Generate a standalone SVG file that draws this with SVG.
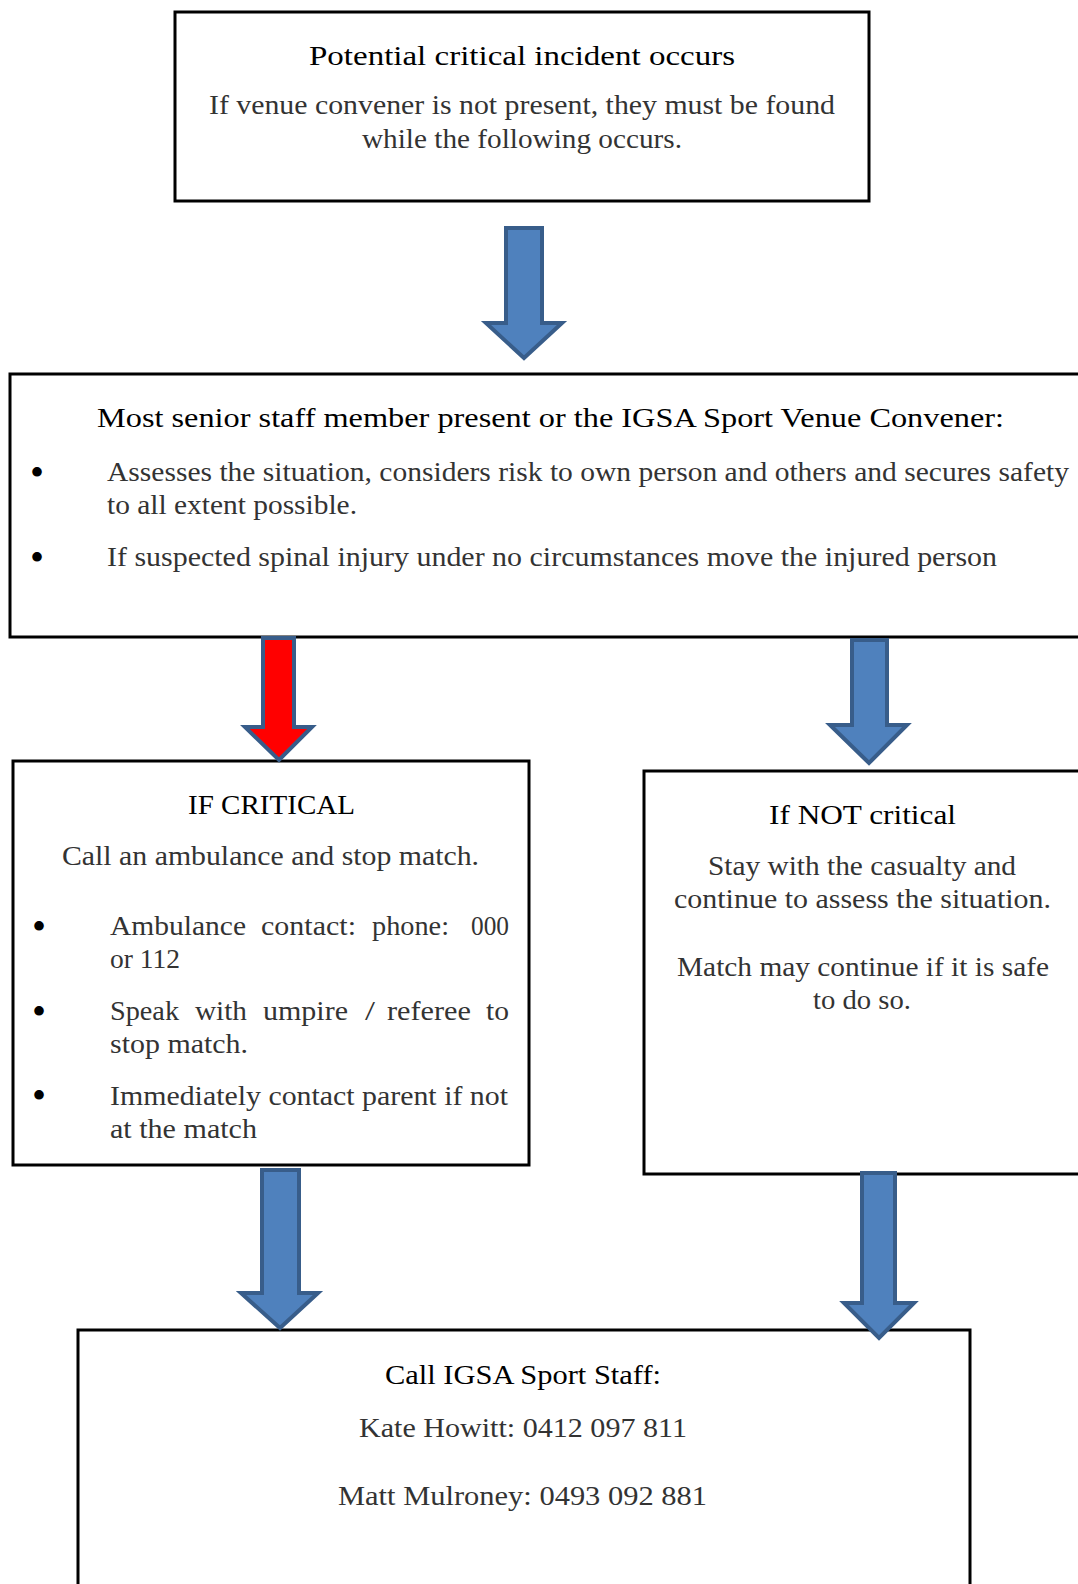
<svg xmlns="http://www.w3.org/2000/svg" width="1078" height="1584" viewBox="0 0 1078 1584">
<style>
.box{fill:#fff;stroke:#000;stroke-width:3}
.h{font-family:"Liberation Serif","Times New Roman",serif;font-size:28px;fill:#000}
.b{font-family:"Liberation Serif","Times New Roman",serif;font-size:27px;fill:#333}
.bl{font-family:"Liberation Serif","Times New Roman",serif;font-size:40px;fill:#000}
.arr{fill:#4F81BD;stroke:#385D8A;stroke-width:4;stroke-linejoin:miter}
.red{fill:#FF0000;stroke:#385D8A;stroke-width:4;stroke-linejoin:miter}
</style>
<rect width="1078" height="1584" fill="#fff"/>

<g id="node-start">
<rect class="box" x="175" y="12" width="694" height="189"/>
<text class="h" x="309" y="65" textLength="426" lengthAdjust="spacingAndGlyphs">Potential critical incident occurs</text>
<text class="b" x="209" y="114" textLength="626" lengthAdjust="spacingAndGlyphs">If venue convener is not present, they must be found</text>
<text class="b" x="362" y="148" textLength="320" lengthAdjust="spacingAndGlyphs">while the following occurs.</text>
</g>

<g id="node-senior">
<rect class="box" x="10" y="374" width="1090" height="263"/>
<text class="h" x="97" y="427" textLength="907" lengthAdjust="spacingAndGlyphs">Most senior staff member present or the IGSA Sport Venue Convener:</text>
<text class="bl" x="30" y="486">•</text>
<text class="b" x="107" y="481" textLength="962" lengthAdjust="spacingAndGlyphs">Assesses the situation, considers risk to own person and others and secures safety</text>
<text class="b" x="107" y="514" textLength="250" lengthAdjust="spacingAndGlyphs">to all extent possible.</text>
<text class="bl" x="30" y="571">•</text>
<text class="b" x="107" y="566" textLength="890" lengthAdjust="spacingAndGlyphs">If suspected spinal injury under no circumstances move the injured person</text>
</g>

<g id="node-critical">
<rect class="box" x="13" y="761" width="516" height="404"/>
<text class="h" x="188" y="814" textLength="167" lengthAdjust="spacingAndGlyphs">IF CRITICAL</text>
<text class="b" x="62" y="865" textLength="417" lengthAdjust="spacingAndGlyphs">Call an ambulance and stop match.</text>
<text class="bl" x="32" y="940">•</text>
<text class="b" x="110" y="935" textLength="136" lengthAdjust="spacingAndGlyphs">Ambulance</text>
<text class="b" x="261" y="935" textLength="95" lengthAdjust="spacingAndGlyphs">contact:</text>
<text class="b" x="372" y="935" textLength="77" lengthAdjust="spacingAndGlyphs">phone:</text>
<text class="b" x="471" y="935" textLength="38" lengthAdjust="spacingAndGlyphs">000</text>
<text class="b" x="110" y="968" textLength="70" lengthAdjust="spacingAndGlyphs">or 112</text>
<text class="bl" x="32" y="1025">•</text>
<text class="b" x="110" y="1020" textLength="69" lengthAdjust="spacingAndGlyphs">Speak</text>
<text class="b" x="195" y="1020" textLength="52" lengthAdjust="spacingAndGlyphs">with</text>
<text class="b" x="263" y="1020" textLength="85" lengthAdjust="spacingAndGlyphs">umpire</text>
<text class="b" x="365" y="1020" textLength="10" lengthAdjust="spacingAndGlyphs">/</text>
<text class="b" x="387" y="1020" textLength="84" lengthAdjust="spacingAndGlyphs">referee</text>
<text class="b" x="486" y="1020" textLength="23" lengthAdjust="spacingAndGlyphs">to</text>
<text class="b" x="110" y="1053" textLength="138" lengthAdjust="spacingAndGlyphs">stop match.</text>
<text class="bl" x="32" y="1109">•</text>
<text class="b" x="110" y="1105" textLength="398" lengthAdjust="spacingAndGlyphs">Immediately contact parent if not</text>
<text class="b" x="110" y="1138" textLength="147" lengthAdjust="spacingAndGlyphs">at the match</text>
</g>

<g id="node-notcritical">
<rect class="box" x="644" y="771" width="450" height="403"/>
<text class="h" x="769" y="824" textLength="187" lengthAdjust="spacingAndGlyphs">If NOT critical</text>
<text class="b" x="708" y="875" textLength="308" lengthAdjust="spacingAndGlyphs">Stay with the casualty and</text>
<text class="b" x="674" y="908" textLength="377" lengthAdjust="spacingAndGlyphs">continue to assess the situation.</text>
<text class="b" x="677" y="976" textLength="372" lengthAdjust="spacingAndGlyphs">Match may continue if it is safe</text>
<text class="b" x="813" y="1009" textLength="98" lengthAdjust="spacingAndGlyphs">to do so.</text>
</g>

<g id="node-staff">
<rect class="box" x="78" y="1330" width="892" height="270"/>
<text class="h" x="385" y="1384" textLength="276" lengthAdjust="spacingAndGlyphs">Call IGSA Sport Staff:</text>
<text class="b" x="359" y="1437" textLength="328" lengthAdjust="spacingAndGlyphs">Kate Howitt: 0412 097 811</text>
<text class="b" x="338" y="1505" textLength="369" lengthAdjust="spacingAndGlyphs">Matt Mulroney: 0493 092 881</text>
</g>

<g id="connectors">
<polygon class="arr" points="506,228 542,228 542,323 562,323 524,358 486,323 506,323"/>
<polygon class="red" points="263,638 294,638 294,727 312,727 279,760 245,727 263,727"/>
<polygon class="arr" points="852,640 887,640 887,725 907,725 869,763 830,725 852,725"/>
<polygon class="arr" points="262,1170 299,1170 299,1293 318,1293 280,1328 241,1293 262,1293"/>
<polygon class="arr" points="862,1173 895,1173 895,1303 914,1303 879,1338 844,1303 862,1303"/>
</g>
</svg>
